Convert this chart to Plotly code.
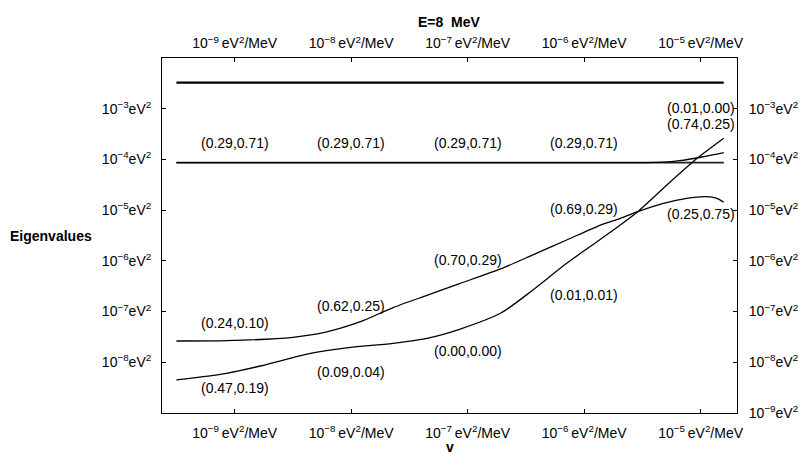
import math
import plotly.graph_objects as go

# Neutrino-energy slice: eigenvalues of the effective mass matrix vs. potential v
energy_title = "E=8\u00a0 MeV"

# potential v (eV^2/MeV) and eigenvalues (eV^2) for each branch
v_b = [3.16e-10, 8.51e-10, 3.16e-9, 6.17e-9, 1.20e-8, 2.29e-8, 4.47e-8, 8.51e-8,
       1.91e-7, 3.63e-7, 7.08e-7, 1.38e-6, 2.04e-6, 2.88e-6, 4.79e-6, 7.59e-6,
       1.12e-5, 1.38e-5, 1.58e-5]
eig_b = [2.63e-8, 2.67e-8, 3.11e-8, 3.98e-8, 6.31e-8, 1.20e-7, 2.09e-7, 3.55e-7,
         6.92e-7, 1.31e-6, 2.58e-6, 5.09e-6, 6.90e-6, 9.33e-6, 1.36e-5, 1.71e-5,
         1.84e-5, 1.71e-5, 1.43e-5]

v_c = [3.16e-10, 8.51e-10, 1.66e-9, 4.47e-9, 8.51e-9, 2.29e-8, 4.47e-8, 8.51e-8,
       1.91e-7, 3.63e-7, 7.08e-7, 1.38e-6, 2.88e-6, 5.13e-6, 9.33e-6, 1.58e-5]
eig_c = [4.48e-9, 6.07e-9, 8.45e-9, 1.50e-8, 1.89e-8, 2.37e-8, 2.97e-8, 4.48e-8,
         9.25e-8, 2.67e-7, 8.95e-7, 2.66e-6, 9.33e-6, 3.13e-5, 1.05e-4, 2.61e-4]

v_a = [3.16e-10, 1.0e-8, 1.0e-6, 3.16e-6, 4.79e-6, 6.61e-6, 1.05e-5, 1.58e-5]
eig_a = [8.63e-5, 8.63e-5, 8.63e-5, 8.67e-5, 8.81e-5, 9.44e-5, 1.13e-4, 1.36e-4]

# constant levels across the whole v range
v_span = [3.16e-10, 1.58e-5]
level_top = [3.26e-3, 3.26e-3]
level_mid = [8.63e-5, 8.63e-5]

# tick labels
x_tickvals = [1e-9, 1e-8, 1e-7, 1e-6, 1e-5]
x_ticktext = ["10<sup>\u22129</sup>\u2009eV<sup>2</sup>/MeV",
              "10<sup>\u22128</sup>\u2009eV<sup>2</sup>/MeV",
              "10<sup>\u22127</sup>\u2009eV<sup>2</sup>/MeV",
              "10<sup>\u22126</sup>\u2009eV<sup>2</sup>/MeV",
              "10<sup>\u22125</sup>\u2009eV<sup>2</sup>/MeV"]
y_tickvals = [1e-9, 1e-8, 1e-7, 1e-6, 1e-5, 1e-4, 1e-3]
y_ticktext = ["10<sup>\u22129</sup>eV<sup>2</sup>", "10<sup>\u22128</sup>eV<sup>2</sup>",
              "10<sup>\u22127</sup>eV<sup>2</sup>", "10<sup>\u22126</sup>eV<sup>2</sup>",
              "10<sup>\u22125</sup>eV<sup>2</sup>", "10<sup>\u22124</sup>eV<sup>2</sup>",
              "10<sup>\u22123</sup>eV<sup>2</sup>"]

# flavour-content labels: (text, v, eigenvalue level)
labels = [
    ("(0.29,0.71)", 1e-9, 2.11e-4), ("(0.29,0.71)", 1e-8, 2.11e-4),
    ("(0.29,0.71)", 1e-7, 2.11e-4), ("(0.29,0.71)", 1e-6, 2.11e-4),
    ("(0.01,0.00)", 1e-5, 1.02e-3), ("(0.74,0.25)", 1e-5, 5.0e-4),
    ("(0.25,0.75)", 1e-5, 8.28e-6), ("(0.69,0.29)", 1e-6, 1.04e-5),
    ("(0.70,0.29)", 1e-7, 1.04e-6), ("(0.01,0.01)", 1e-6, 2.12e-7),
    ("(0.00,0.00)", 1e-7, 1.67e-8), ("(0.62,0.25)", 1e-8, 1.29e-7),
    ("(0.24,0.10)", 1e-9, 6.04e-8), ("(0.09,0.04)", 1e-8, 6.52e-9),
    ("(0.47,0.19)", 1e-9, 3.07e-9),
]

FONT = "Liberation Sans, Arial, Helvetica, sans-serif"

fig = go.Figure()
fig.add_trace(go.Scatter(x=v_span, y=level_top, mode="lines",
                         line=dict(color="black", width=2.2)))
fig.add_trace(go.Scatter(x=v_span, y=level_mid, mode="lines",
                         line=dict(color="#222", width=1.9)))
fig.add_trace(go.Scatter(x=v_a, y=eig_a, mode="lines",
                         line=dict(color="black", width=1.3, shape="spline", smoothing=0.8)))
fig.add_trace(go.Scatter(x=v_b, y=eig_b, mode="lines",
                         line=dict(color="black", width=1.3, shape="spline", smoothing=0.7)))
fig.add_trace(go.Scatter(x=v_c, y=eig_c, mode="lines",
                         line=dict(color="black", width=1.3, shape="spline", smoothing=0.8)))
# carrier for the top / right axes
fig.add_trace(go.Scatter(x=v_span, y=level_mid, mode="lines", xaxis="x2", yaxis="y2",
                         line=dict(width=0), hoverinfo="skip", opacity=0))

x_range = [-9.624, -4.688]
y_range = [-9, -2]

axis_common = dict(type="log", showgrid=False, zeroline=False, showline=True,
                   linecolor="black", linewidth=1, ticks="inside", ticklen=4,
                   tickcolor="black", tickwidth=1, automargin=False,
                   tickfont=dict(family=FONT, size=14, color="black"))

fig.update_layout(
    width=803, height=454,
    margin=dict(l=162, r=66, t=58, b=41),
    paper_bgcolor="white", plot_bgcolor="white",
    showlegend=False,
    font=dict(family=FONT, size=14, color="black"),
    xaxis=dict(**axis_common, range=x_range, tickvals=x_tickvals, ticktext=x_ticktext,
               ticklabelstandoff=7),
    xaxis2=dict(**axis_common, range=x_range, tickvals=x_tickvals, ticktext=x_ticktext,
                overlaying="x", side="top", anchor="y2", ticklabelstandoff=3),
    yaxis=dict(**axis_common, range=y_range, tickvals=y_tickvals[1:], ticktext=y_ticktext[1:],
               ticklabelstandoff=7),
    yaxis2=dict(**axis_common, range=y_range, tickvals=y_tickvals, ticktext=y_ticktext,
                overlaying="y", side="right", anchor="x2", ticklabelstandoff=8),
)

for text, vx, ey in labels:
    fig.add_annotation(x=math.log10(vx), y=math.log10(ey), xref="x", yref="y",
                       text=text, showarrow=False,
                       font=dict(family=FONT, size=14, color="black"))

fig.add_annotation(x=0.5, y=1.0, xref="paper", yref="paper", yshift=36,
                   xanchor="center", yanchor="middle",
                   text="<b>" + energy_title + "</b>", showarrow=False,
                   font=dict(family=FONT, size=14, color="black"))
fig.add_annotation(x=0.5, y=0.0, xref="paper", yref="paper", yshift=-34,
                   xanchor="center", yanchor="middle",
                   text="<b>v</b>", showarrow=False,
                   font=dict(family=FONT, size=14, color="black"))
fig.add_annotation(x=0.0, y=0.5, xref="paper", yref="paper", xshift=-111,
                   xanchor="center", yanchor="middle",
                   text="<b>Eigenvalues</b>", showarrow=False,
                   font=dict(family=FONT, size=14, color="black"))

fig.write_html("out.html")
